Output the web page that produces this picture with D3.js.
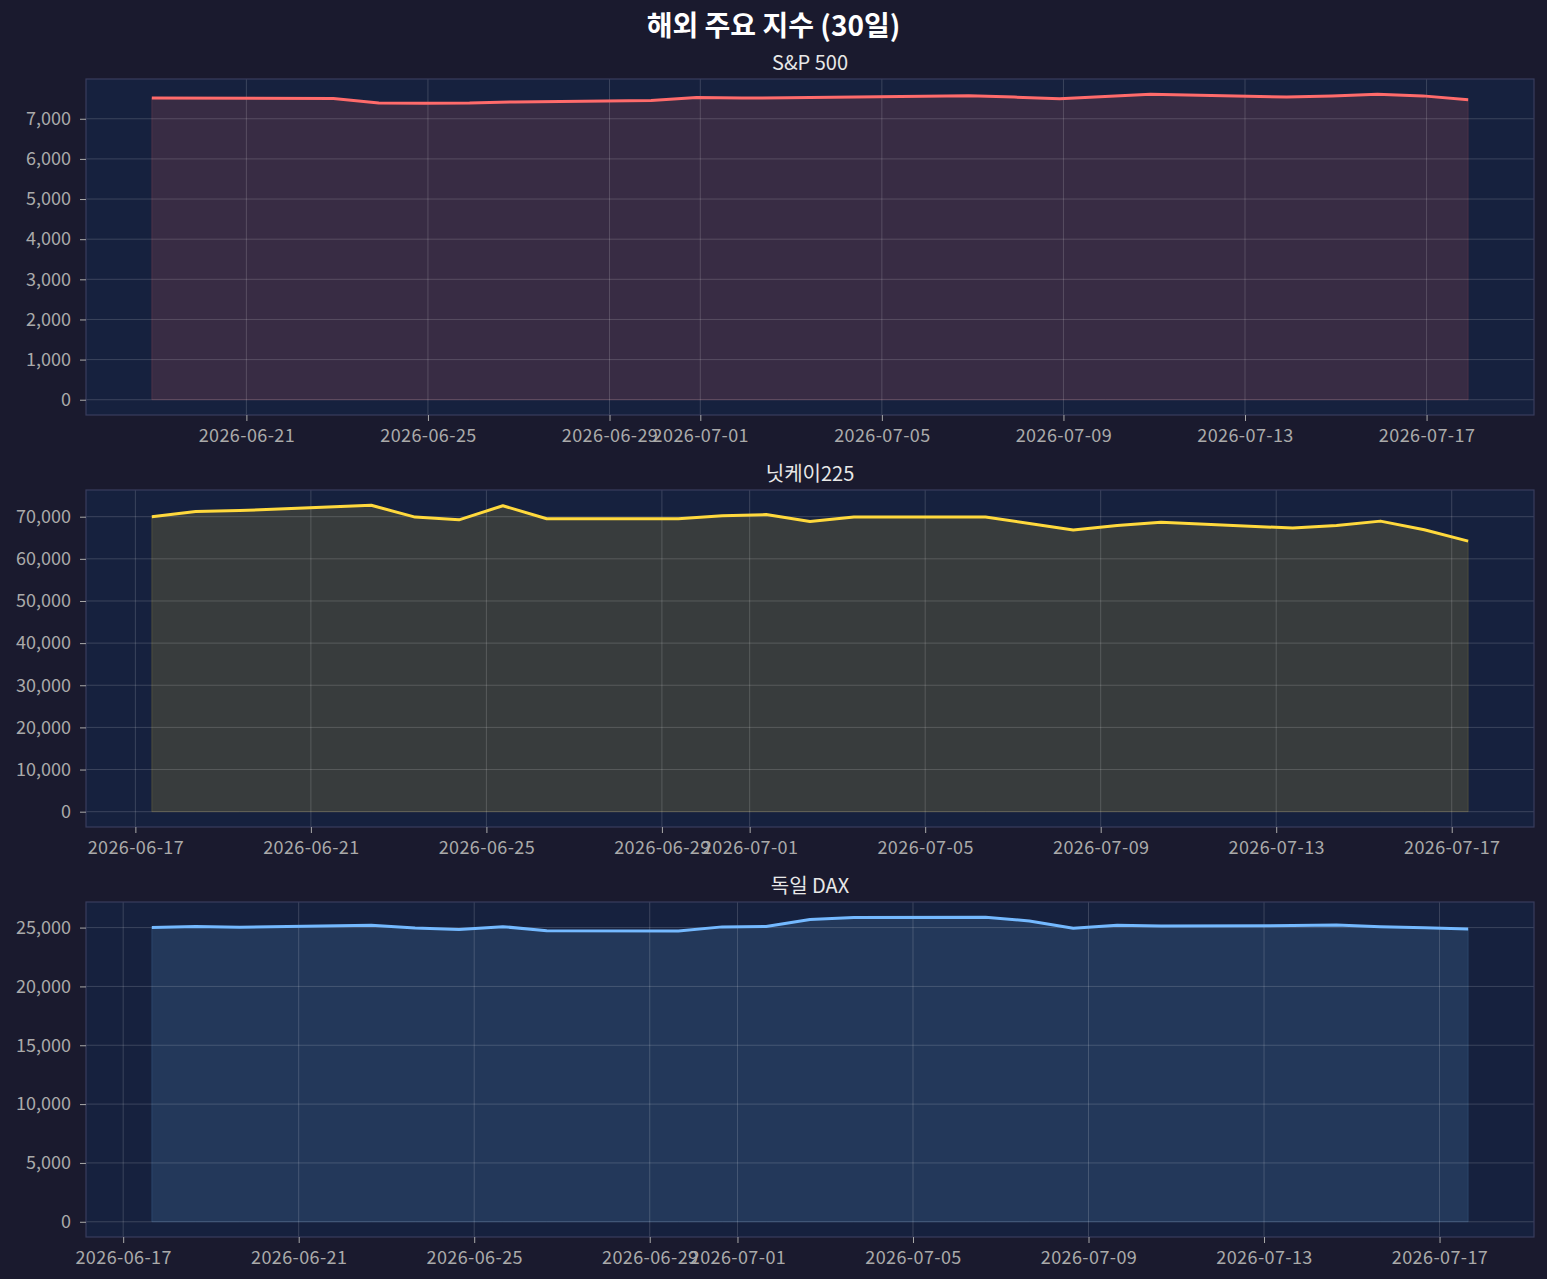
<!DOCTYPE html>
<html>
<head>
<meta charset="utf-8">
<script src="https://cdn.jsdelivr.net/npm/d3@7"></script>
<style>
  body { margin: 0; background: #1a1a2e; }
  svg { display: block; font-family: "Noto Sans CJK KR", "Noto Sans", sans-serif; }
</style>
</head>
<body>
<script>
// S&P 500 (US trading days, closes)
const spDates = ["2026-06-18T22:00","2026-06-22T22:00","2026-06-23T22:00","2026-06-24T22:00","2026-06-25T22:00",
  "2026-06-26T22:00","2026-06-29T22:00","2026-06-30T22:00","2026-07-01T22:00","2026-07-02T22:00",
  "2026-07-06T22:00","2026-07-07T22:00","2026-07-08T22:00","2026-07-09T22:00","2026-07-10T22:00",
  "2026-07-13T22:00","2026-07-14T22:00","2026-07-15T22:00","2026-07-16T22:00","2026-07-17T22:00"];
const spValues = [7520,7505,7390,7388,7390,7420,7455,7530,7515,7525,7575,7540,7500,7555,7610,7540,7565,7610,7570,7475];

// 닛케이225
const nkDates = ["2026-06-17T09:00","2026-06-18T09:00","2026-06-19T09:00","2026-06-22T09:00","2026-06-23T09:00",
  "2026-06-24T09:00","2026-06-25T09:00","2026-06-26T09:00","2026-06-29T09:00","2026-06-30T09:00",
  "2026-07-01T09:00","2026-07-02T09:00","2026-07-03T09:00","2026-07-06T09:00","2026-07-07T09:00",
  "2026-07-08T09:00","2026-07-09T09:00","2026-07-10T09:00","2026-07-13T09:00","2026-07-14T09:00",
  "2026-07-15T09:00","2026-07-16T09:00","2026-07-17T09:00"];
const nkValues = [70000,71250,71450,72700,69900,69250,72600,69500,69500,70200,70500,68850,69950,69950,68400,
  66850,67900,68700,67300,67900,68950,66900,64200];

// 독일 DAX
const daxDates = ["2026-06-17T15:40","2026-06-18T15:40","2026-06-19T15:40","2026-06-22T15:40","2026-06-23T15:40",
  "2026-06-24T15:40","2026-06-25T15:40","2026-06-26T15:40","2026-06-29T15:40","2026-06-30T15:40",
  "2026-07-01T15:40","2026-07-02T15:40","2026-07-03T15:40","2026-07-06T15:40","2026-07-07T15:40",
  "2026-07-08T15:40","2026-07-09T15:40","2026-07-10T15:40","2026-07-13T15:40","2026-07-14T15:40",
  "2026-07-15T15:40","2026-07-16T15:40","2026-07-17T15:40"];
const daxValues = [25000,25090,25030,25200,24970,24830,25080,24730,24700,25060,25100,25680,25860,25880,25560,
  24950,25200,25130,25170,25220,25080,24980,24880];

const titles = ["S&P 500", "닛케이225", "독일 DAX"];
const mainTitle = "해외 주요 지수 (30일)";
const tickMonthDays = [1, 5, 9, 13, 17, 21, 25, 29];
const yStep = [1000, 10000, 5000];

const width = 1547, height = 1279;
const left = 86, right = 1534;
const parse = d3.timeParse("%Y-%m-%dT%H:%M");

const panels = [
  { title: titles[0], dates: spDates, values: spValues, step: yStep[0], color: "#ff6b6b", top: 79, bottom: 415 },
  { title: titles[1], dates: nkDates, values: nkValues, step: yStep[1], color: "#ffd93d", top: 490, bottom: 827 },
  { title: titles[2], dates: daxDates, values: daxValues, step: yStep[2], color: "#74b9ff", top: 902, bottom: 1237 }
];

const svg = d3.select("body").append("svg")
  .attr("width", width)
  .attr("height", height);

svg.append("rect").attr("width", width).attr("height", height).attr("fill", "#1a1a2e");

svg.append("text")
  .attr("x", width / 2)
  .attr("y", 36)
  .attr("text-anchor", "middle")
  .attr("fill", "#ffffff")
  .attr("font-size", "28px")
  .attr("font-weight", "bold")
  .text(mainTitle);

panels.forEach(p => {
  const pts = p.dates.map((d, i) => ({ t: parse(d), v: p.values[i] }));
  const t0 = +pts[0].t, t1 = +pts[pts.length - 1].t, span = t1 - t0;
  const x = d3.scaleTime([new Date(t0 - span * 0.05), new Date(t1 + span * 0.05)], [left, right]);
  const vmax = d3.max(pts, d => d.v);
  const y = d3.scaleLinear([-vmax * 0.05, vmax * 1.05], [p.bottom, p.top]);

  const xt = d3.timeDay.range(x.domain()[0], x.domain()[1])
    .filter(d => tickMonthDays.includes(d.getDate()));
  const yt = d3.range(0, vmax * 1.05, p.step);

  const g = svg.append("g");

  g.append("rect")
    .attr("x", left).attr("y", p.top)
    .attr("width", right - left).attr("height", p.bottom - p.top)
    .attr("fill", "#16213e");

  // area under the line
  g.append("path")
    .datum(pts)
    .attr("d", d3.area().x(d => x(d.t)).y0(y(0)).y1(d => y(d.v)))
    .attr("fill", p.color)
    .attr("fill-opacity", 0.15)
    .attr("stroke", p.color)
    .attr("stroke-opacity", 0.15)
    .attr("stroke-width", 1);

  // grid
  g.append("g").selectAll("line").data(xt).enter().append("line")
    .attr("x1", d => x(d)).attr("x2", d => x(d))
    .attr("y1", p.top).attr("y2", p.bottom)
    .attr("stroke", "#ffffff").attr("stroke-opacity", 0.16).attr("stroke-width", 1);
  g.append("g").selectAll("line").data(yt).enter().append("line")
    .attr("x1", left).attr("x2", right)
    .attr("y1", d => y(d)).attr("y2", d => y(d))
    .attr("stroke", "#ffffff").attr("stroke-opacity", 0.16).attr("stroke-width", 1);

  g.append("path")
    .datum(pts)
    .attr("d", d3.line().x(d => x(d.t)).y(d => y(d.v)))
    .attr("fill", "none")
    .attr("stroke", p.color)
    .attr("stroke-width", 3)
    .attr("stroke-linejoin", "round");

  // spines
  g.append("rect")
    .attr("x", left).attr("y", p.top)
    .attr("width", right - left).attr("height", p.bottom - p.top)
    .attr("fill", "none")
    .attr("stroke", "#393d5e")
    .attr("stroke-width", 1.2);

  const xa = g.append("g")
    .attr("transform", "translate(0," + p.bottom + ")")
    .call(d3.axisBottom(x).tickValues(xt).tickFormat(d3.timeFormat("%Y-%m-%d")).tickSize(6).tickPadding(8));
  const ya = g.append("g")
    .attr("transform", "translate(" + left + ",0)")
    .call(d3.axisLeft(y).tickValues(yt).tickFormat(d3.format(",")).tickSize(6).tickPadding(9));

  [xa, ya].forEach(a => {
    a.select(".domain").remove();
    a.selectAll(".tick line").attr("stroke", "#aaaaaa");
    a.selectAll(".tick text")
      .attr("fill", "#aaaaaa")
      .attr("font-size", "18px")
      .attr("font-family", "\"Noto Sans CJK KR\", \"Noto Sans\", sans-serif");
  });
  xa.selectAll(".tick text").attr("letter-spacing", "0.4px");

  g.append("text")
    .attr("x", (left + right) / 2)
    .attr("y", p.top - 9)
    .attr("text-anchor", "middle")
    .attr("fill", "#e8e8e8")
    .attr("font-size", "20px")
    .text(p.title);
});
</script>
</body>
</html>
